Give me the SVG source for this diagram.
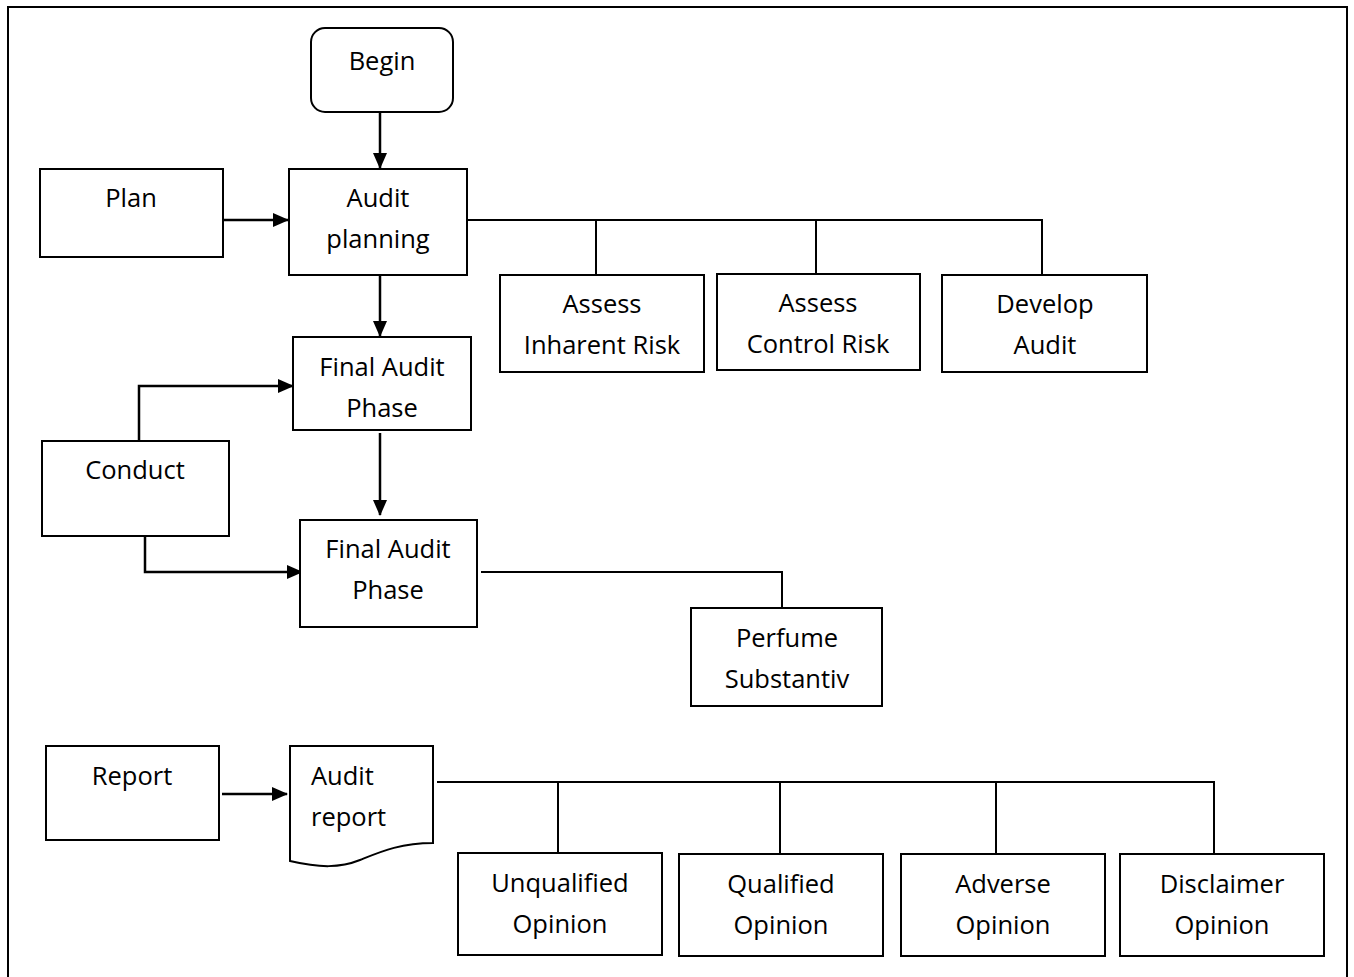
<svg xmlns="http://www.w3.org/2000/svg" width="1354" height="977" viewBox="0 0 1354 977">
<defs>
<marker id="ah" viewBox="0 0 16 14" refX="15" refY="7" markerWidth="16" markerHeight="14" markerUnits="userSpaceOnUse" orient="auto">
<path d="M0,0 L16,7 L0,14 Z" fill="#000"/>
</marker>
<style>
.b{fill:#fff;stroke:#000;stroke-width:2}
.t{font-family:"Open Sans","Liberation Sans",sans-serif;font-size:25.5px;fill:#000;text-anchor:middle}
.tl{font-family:"Open Sans","Liberation Sans",sans-serif;font-size:25.5px;fill:#000}
.c{fill:none;stroke:#000;stroke-width:2}
.a{fill:none;stroke:#000;stroke-width:2.5;marker-end:url(#ah)}
</style>
</defs>
<rect width="1354" height="977" fill="#fff"/>
<rect x="8" y="7" width="1339" height="980" fill="none" stroke="#000" stroke-width="2"/>
<g id="connectors">
<path class="a" d="M380,112 V168"/>
<path class="a" d="M223,220 H288"/>
<path class="c" d="M467,220 H1042 V275 M596,220 V275 M816,220 V274"/>
<path class="a" d="M380,275 V336"/>
<path class="a" d="M139,441 V386 H293"/>
<path class="a" d="M380,433 V515"/>
<path class="a" d="M145,536 V572 H302"/>
<path class="c" d="M481,572 H782 V608"/>
<path class="a" d="M222,794 H287"/>
<path class="c" d="M437,782 H1214 V854 M558,782 V853 M780,782 V854 M996,782 V854"/>
</g>
<g id="begin"><rect class="b" x="311" y="28" width="142" height="84" rx="14"/><text class="t" x="382" y="70">Begin</text></g>
<g id="plan"><rect class="b" x="40" y="169" width="183" height="88"/><text class="t" x="131" y="207">Plan</text></g>
<g id="audit-planning"><rect class="b" x="289" y="169" width="178" height="106"/><text class="t" x="378" y="207">Audit</text><text class="t" x="378" y="248">planning</text></g>
<g id="assess-inherent"><rect class="b" x="500" y="275" width="204" height="97"/><text class="t" x="602" y="313">Assess</text><text class="t" x="602" y="354">Inharent Risk</text></g>
<g id="assess-control"><rect class="b" x="717" y="274" width="203" height="96"/><text class="t" x="818" y="312">Assess</text><text class="t" x="818" y="353">Control Risk</text></g>
<g id="develop-audit"><rect class="b" x="942" y="275" width="205" height="97"/><text class="t" x="1045" y="313">Develop</text><text class="t" x="1045" y="354">Audit</text></g>
<g id="final-audit-1"><rect class="b" x="293" y="337" width="178" height="93"/><text class="t" x="382" y="376">Final Audit</text><text class="t" x="382" y="417">Phase</text></g>
<g id="conduct"><rect class="b" x="42" y="441" width="187" height="95"/><text class="t" x="135" y="479">Conduct</text></g>
<g id="final-audit-2"><rect class="b" x="300" y="520" width="177" height="107"/><text class="t" x="388" y="558">Final Audit</text><text class="t" x="388" y="599">Phase</text></g>
<g id="perfume"><rect class="b" x="691" y="608" width="191" height="98"/><text class="t" x="787" y="647">Perfume</text><text class="t" x="787" y="688">Substantiv</text></g>
<g id="report"><rect class="b" x="46" y="746" width="173" height="94"/><text class="t" x="132" y="785">Report</text></g>
<g id="audit-report"><path class="b" d="M290,746 H433 V843 C400,843 380,852 360,860 C340,868 320,868 290,861 Z"/><text class="tl" x="311" y="785">Audit</text><text class="tl" x="311" y="826">report</text></g>
<g id="unqualified"><rect class="b" x="458" y="853" width="204" height="102"/><text class="t" x="560" y="892">Unqualified</text><text class="t" x="560" y="933">Opinion</text></g>
<g id="qualified"><rect class="b" x="679" y="854" width="204" height="102"/><text class="t" x="781" y="893">Qualified</text><text class="t" x="781" y="934">Opinion</text></g>
<g id="adverse"><rect class="b" x="901" y="854" width="204" height="102"/><text class="t" x="1003" y="893">Adverse</text><text class="t" x="1003" y="934">Opinion</text></g>
<g id="disclaimer"><rect class="b" x="1120" y="854" width="204" height="102"/><text class="t" x="1222" y="893">Disclaimer</text><text class="t" x="1222" y="934">Opinion</text></g>
</svg>
